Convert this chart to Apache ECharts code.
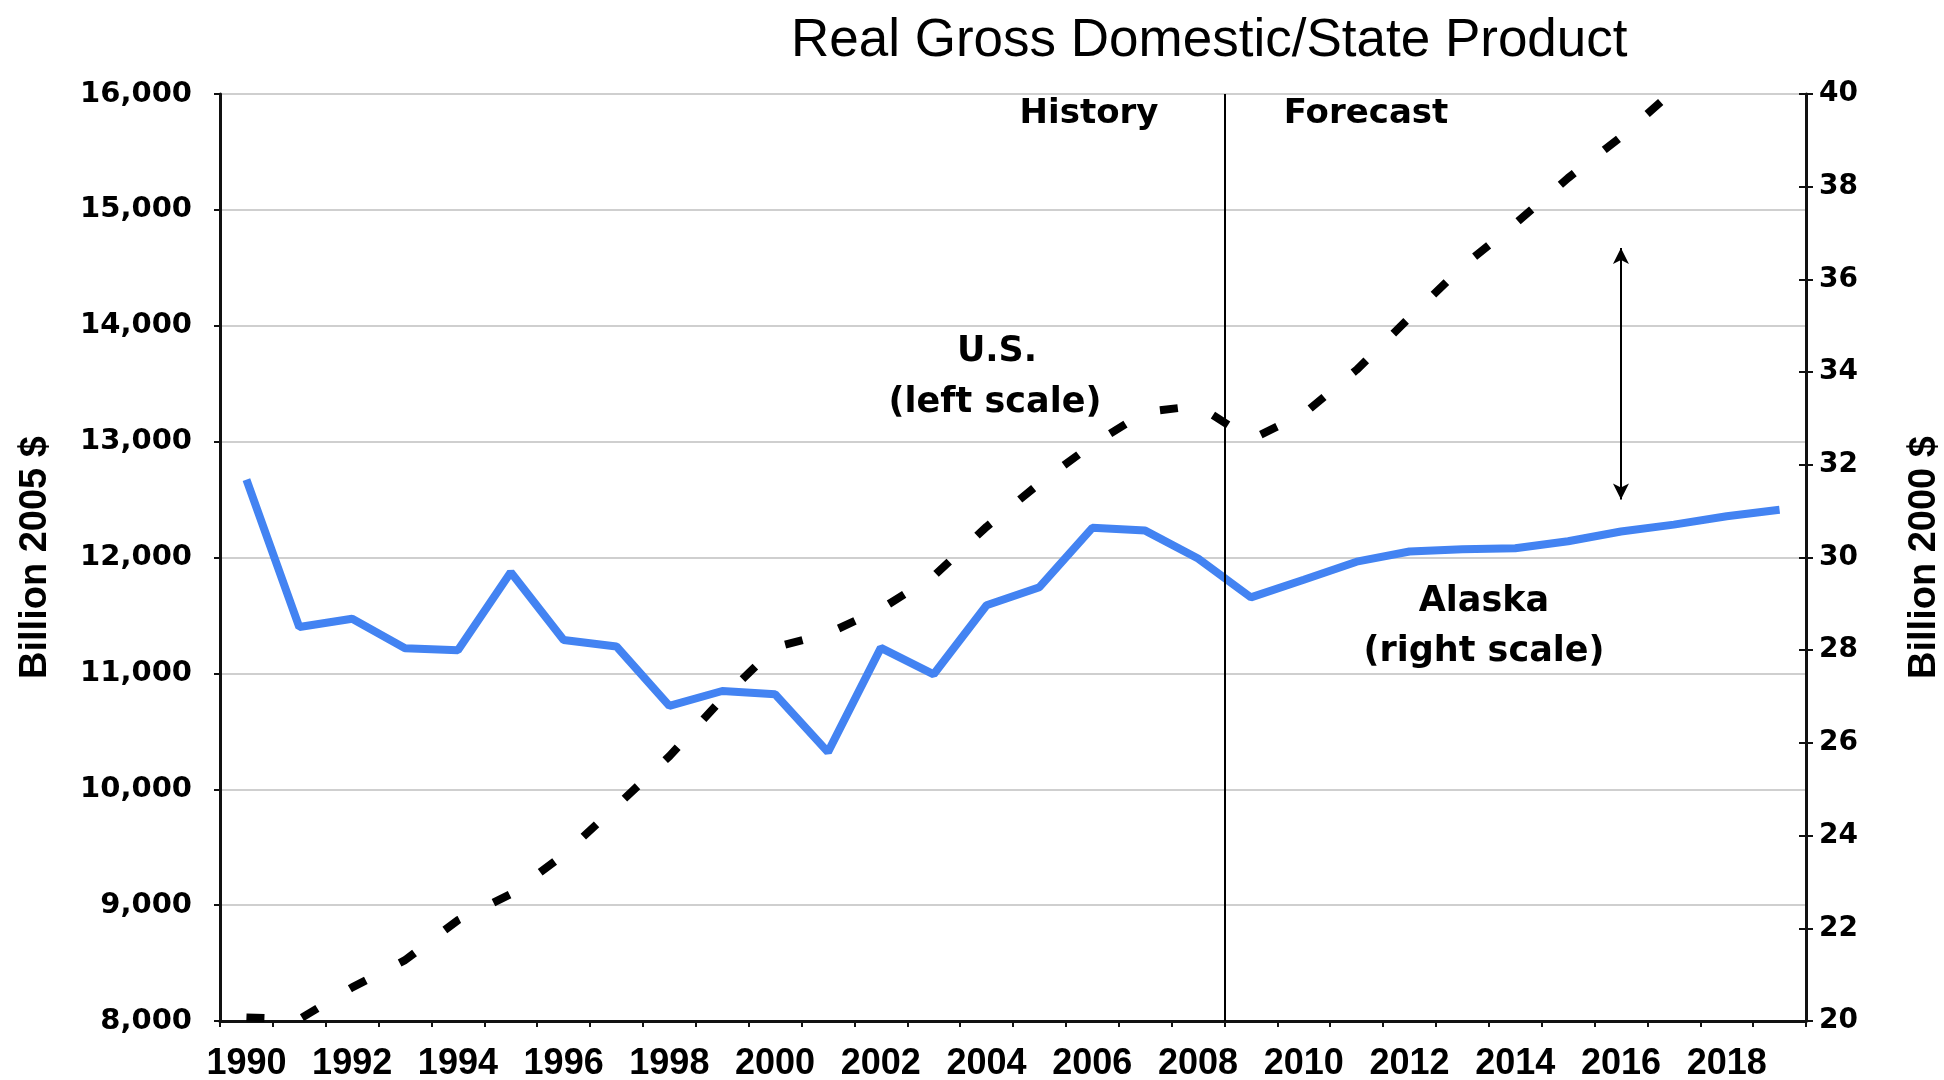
<!DOCTYPE html>
<html>
<head>
<meta charset="utf-8">
<title>Real Gross Domestic/State Product</title>
<script src="https://cdn.jsdelivr.net/npm/echarts@6/dist/echarts.min.js"></script>
<style>
  html, body { margin: 0; padding: 0; background: #fff; }
  #main { width: 1944px; height: 1080px; }
</style>
</head>
<body>
<div id="main"></div>
<script>
// years on the category axis
const years = [];
for (let y = 1990; y <= 2019; y++) years.push(String(y));

// U.S. real GDP, billion 2005 $ (left scale)
const usGdp = [8030, 8015, 8290, 8525, 8870, 9095, 9435, 9855, 10285, 10780,
  11225, 11345, 11555, 11840, 12265, 12640, 12975, 13255, 13310, 13020,
  13240, 13620, 14070, 14510, 14880, 15275, 15630, 16030, null, null];

// Alaska real GSP, billion 2000 $ (right scale)
const alaskaGsp = [31.68, 28.50, 28.68, 28.04, 28.00, 29.68, 28.22, 28.08, 26.80, 27.12,
  27.05, 25.80, 28.05, 27.48, 28.97, 29.36, 30.64, 30.58, 29.98, 29.14,
  29.52, 29.91, 30.13, 30.18, 30.20, 30.35, 30.56, 30.71, 30.89, 31.03];

// first forecast year and the gap arrow (year, top, bottom on left scale)
const forecastFrom = '2009';
const gapArrow = ['2016', 14670, 12500];

const leftTicks = [8000, 16000, 1000];
const rightTicks = [20, 40, 2];

const chart = echarts.init(document.getElementById('main'));
const boldFont = '"DejaVu Sans", sans-serif';
const arial = '"Liberation Sans", Arial, sans-serif';

function note(text, x, y, size) {
  return {
    type: 'text', x: x, y: y,
    style: { text: text, fill: '#000', font: 'bold ' + size + 'px ' + boldFont, textAlign: 'center', textVerticalAlign: 'middle' }
  };
}

const option = {
  backgroundColor: '#fff',
  animation: false,
  title: {
    text: 'Real Gross Domestic/State Product',
    left: 786, top: 10,
    textStyle: { fontFamily: arial, fontSize: 53, fontWeight: 'normal', color: '#000' }
  },
  grid: { left: 220, right: 138, top: 94, bottom: 59, containLabel: false, outerBoundsMode: 'none' },
  xAxis: [{
    type: 'category',
    data: years,
    boundaryGap: true,
    axisLine: { lineStyle: { color: '#111', width: 3 } },
    axisTick: { show: true, interval: 0, length: 6, lineStyle: { color: '#111', width: 2 } },
    axisLabel: { interval: 1, margin: 25, color: '#000', fontFamily: arial, fontWeight: 'bold', fontSize: 36 },
    splitLine: { show: false }
  }, {
    // helper scale for the history / forecast divider
    type: 'value', min: 0, max: years.length, show: false
  }],
  yAxis: [{
    type: 'value',
    position: 'left',
    min: leftTicks[0], max: leftTicks[1], interval: leftTicks[2],
    name: 'Billion 2005 $',
    nameLocation: 'middle', nameRotate: 90, nameGap: 165,
    nameTextStyle: { fontFamily: arial, fontWeight: 'bold', fontSize: 38, color: '#000' },
    axisLine: { show: true, lineStyle: { color: '#111', width: 3 } },
    axisTick: { show: true, length: 6, lineStyle: { color: '#111', width: 2 } },
    axisLabel: {
      margin: 28, color: '#000', fontFamily: boldFont, fontWeight: 'bold', fontSize: 29,
      formatter: v => v.toLocaleString('en-US')
    },
    splitLine: { show: true, lineStyle: { color: '#cfcfcf', width: 2 } }
  }, {
    type: 'value',
    position: 'right',
    min: rightTicks[0], max: rightTicks[1], interval: rightTicks[2],
    name: 'Billion 2000 $',
    nameLocation: 'middle', nameRotate: 90, nameGap: 100,
    nameTextStyle: { fontFamily: arial, fontWeight: 'bold', fontSize: 38, color: '#000' },
    axisLine: { show: true, lineStyle: { color: '#111', width: 3 } },
    axisTick: { show: true, length: 7, lineStyle: { color: '#111', width: 2 } },
    axisLabel: { margin: 13, color: '#000', fontFamily: boldFont, fontWeight: 'bold', fontSize: 28 },
    splitLine: { show: false }
  }, {
    // inner half of the right "+" ticks
    type: 'value',
    position: 'right',
    min: rightTicks[0], max: rightTicks[1], interval: rightTicks[2],
    axisLine: { show: false },
    axisTick: { show: true, inside: true, length: 7, lineStyle: { color: '#111', width: 2 } },
    axisLabel: { show: false },
    splitLine: { show: false }
  }],
  series: [{
    name: 'U.S.',
    type: 'line',
    data: usGdp,
    yAxisIndex: 0,
    symbol: 'none',
    clip: true,
    lineStyle: { color: '#000', width: 8, type: [18, 38] },
    markLine: {
      silent: true,
      symbol: ['arrow', 'arrow'],
      symbolSize: [12, 16],
      label: { show: false },
      lineStyle: { color: '#000', width: 2, type: 'solid' },
      data: [[{ coord: [gapArrow[0], gapArrow[1]] }, { coord: [gapArrow[0], gapArrow[2]] }]]
    },
    z: 3
  }, {
    name: 'Alaska',
    type: 'line',
    data: alaskaGsp,
    yAxisIndex: 1,
    symbol: 'none',
    lineStyle: { color: '#4383f2', width: 8 },
    z: 4
  }, {
    name: 'divider',
    type: 'line',
    xAxisIndex: 1,
    yAxisIndex: 0,
    data: [[0, leftTicks[0]]],
    symbol: 'none',
    lineStyle: { width: 0 },
    markLine: {
      silent: true,
      symbol: 'none',
      label: { show: false },
      lineStyle: { color: '#000', width: 2, type: 'solid' },
      data: [{ xAxis: years.indexOf(forecastFrom) }]
    },
    z: 2
  }],
  graphic: [
    note('History', 1089, 114, 34),
    note('Forecast', 1366, 114, 34),
    note('U.S.', 997, 352, 35),
    note('(left scale)', 995, 403, 35),
    note('Alaska', 1484, 602, 35),
    note('(right scale)', 1484, 652, 35)
  ]
};

chart.setOption(option);
window.addEventListener('resize', chart.resize);
</script>
</body>
</html>
